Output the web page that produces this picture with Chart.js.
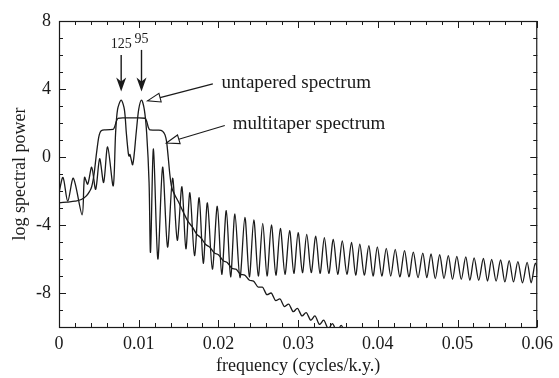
<!DOCTYPE html>
<html>
<head>
<meta charset="utf-8">
<script src="https://cdn.jsdelivr.net/npm/chart.js@4/dist/chart.umd.min.js"></script>
<style>
  html, body { margin: 0; padding: 0; background: #fff; }
</style>
</head>
<body>
<canvas id="spectrum" width="559" height="378"></canvas>
<script>
// untapered periodogram: main lobes at 1/125 and 1/95 cycles/k.y., then sidelobes
const untaperedFreq = [
  0.0000, 0.0005, 0.0011, 0.0018, 0.0029, 0.0032, 0.0036, 0.0041, 0.0046, 0.0051,
  0.0056, 0.0061, 0.0068, 0.0071, 0.00735, 0.0078, 0.0082, 0.00845, 0.0087, 0.0088,
  0.0089, 0.00925, 0.0097, 0.0100, 0.01035, 0.0107, 0.0110, 0.0113, 0.01148, 0.01185,
  0.0124, 0.0130, 0.01362,
  0.01425, 0.01484, 0.01542, 0.01592, 0.01642, 0.01700, 0.01758, 0.01810, 0.01862, 0.01924,
  0.01986, 0.02042, 0.02099, 0.02153, 0.02207, 0.02270, 0.02332, 0.02388, 0.02444, 0.02500,
  0.02556, 0.02610, 0.02665, 0.02721, 0.02777, 0.02835, 0.02893, 0.02946, 0.03000, 0.03054,
  0.03108, 0.03164, 0.03221, 0.03275, 0.03329, 0.03385, 0.03441, 0.03497, 0.03554, 0.03612,
  0.03670, 0.03722, 0.03774, 0.03830, 0.03887, 0.03940, 0.03994, 0.04050, 0.04106, 0.04162,
  0.04218, 0.04276, 0.04335, 0.04390, 0.04445, 0.04504, 0.04564, 0.04615, 0.04667, 0.04721,
  0.04776, 0.04830, 0.04884, 0.04937, 0.04991, 0.05047, 0.05103, 0.05155, 0.05208, 0.05266,
  0.05324, 0.05376, 0.05428, 0.05484, 0.05540, 0.05594, 0.05648, 0.05702, 0.05757, 0.05815,
  0.05873, 0.05924, 0.05976, 0.06030
];
const untaperedPower = [
  -2.1, -1.2, -2.6, -1.25, -3.4, -1.2, -1.6, -0.6, -1.9, -0.1,
  -1.5, 0.6, -1.7, 1.4, 2.8, 3.35, 2.8, 1.4, 0.2, 0.05,
  0.15, -0.45, 1.5, 2.8, 3.35, 2.8, 1.4, -1.5, -5.6, 0.47,
  -6.0, -0.6, -5.3,
  -1.25, -4.9, -1.75, -5.4, -2.1, -5.8, -2.4, -6.25, -2.7, -6.6,
  -2.9, -6.9, -3.15, -7.05, -3.35, -7.1, -3.55, -7.05, -3.7, -7.0,
  -3.9, -7.0, -4.0, -6.95, -4.2, -6.9, -4.33, -6.85, -4.45, -6.8,
  -4.55, -6.8, -4.65, -6.85, -4.75, -6.85, -4.84, -6.9, -4.94, -6.9,
  -5.02, -6.95, -5.12, -6.95, -5.22, -7.0, -5.29, -7.0, -5.37, -7.0,
  -5.43, -7.05, -5.51, -7.05, -5.6, -7.1, -5.65, -7.1, -5.7, -7.15,
  -5.75, -7.15, -5.8, -7.2, -5.84, -7.2, -5.88, -7.25, -5.93, -7.25,
  -5.97, -7.3, -6.02, -7.3, -6.06, -7.35, -6.1, -7.35, -6.15, -7.4,
  -6.2, -7.4, -6.25, -7.4
];

// multitaper estimate: stepped plateau, then decaying leakage with small ripple
const multitaperFreq = [
  0.0000, 0.0010, 0.0020, 0.0028, 0.0034, 0.0038, 0.0041, 0.0044, 0.0047, 0.0050,
  0.0053, 0.0057, 0.0068, 0.0070, 0.0072, 0.0074, 0.0080, 0.0100, 0.0108, 0.0110,
  0.0112, 0.0114, 0.0125, 0.0130, 0.0133, 0.0135, 0.0137, 0.0139, 0.0141, 0.0145,
  0.0150, 0.0156, 0.0162, 0.0167, 0.0173, 0.0178, 0.0184, 0.0189, 0.0195, 0.0200,
  0.0206, 0.0211, 0.0217, 0.0222, 0.0228, 0.0233, 0.0239, 0.0244, 0.0250, 0.0255,
  0.0261, 0.0266, 0.0272, 0.0277, 0.0283, 0.0288, 0.0294, 0.0299, 0.0305, 0.0310,
  0.0316, 0.0321, 0.0327, 0.0332, 0.0338, 0.0343, 0.0349, 0.0354, 0.0360, 0.0365,
  0.0371, 0.0376, 0.0382
];
const multitaperPower = [
  -2.7, -2.65, -2.6, -2.5, -2.3, -2.05, -1.75, -1.0, 0.2, 1.2,
  1.55, 1.6, 1.62, 1.8, 2.1, 2.27, 2.3, 2.3, 2.28, 2.1,
  1.75, 1.6, 1.58, 1.52, 1.3, 0.9, 0.0, -1.0, -1.7, -2.2,
  -2.65, -3.25, -3.8, -4.1, -4.55, -4.75, -5.15, -5.3, -5.65, -5.75,
  -6.1, -6.2, -6.55, -6.6, -6.9, -6.95, -7.25, -7.3, -7.65, -7.65,
  -8.1, -8.0, -8.45, -8.35, -8.8, -8.65, -9.1, -8.9, -9.35, -9.15,
  -9.6, -9.35, -9.85, -9.6, -10.1, -9.8, -10.3, -9.9, -10.45, -10.05,
  -10.6, -10.3, -10.8
];

const xTickValues = [0, 0.01, 0.02, 0.03, 0.04, 0.05, 0.06];
const yTickValues = [-8, -4, 0, 4, 8];
const periodLabels = ["125", "95"];
const periodFreq = [0.0078, 0.01035];
const seriesLabels = ["untapered spectrum", "multitaper spectrum"];

const INK = "#1a1a1a";
const SERIF = "'Liberation Serif', 'DejaVu Serif', serif";

function arrowOpen(ctx, x0, y0, x1, y1) {
  const ang = Math.atan2(y1 - y0, x1 - x0);
  const len = 13, half = 4.5;
  const bx = x1 - len * Math.cos(ang), by = y1 - len * Math.sin(ang);
  const nx = -Math.sin(ang), ny = Math.cos(ang);
  ctx.beginPath();
  ctx.moveTo(x0, y0);
  ctx.lineTo(bx, by);
  ctx.stroke();
  ctx.beginPath();
  ctx.moveTo(x1, y1);
  ctx.lineTo(bx + nx * half, by + ny * half);
  ctx.lineTo(bx - nx * half, by - ny * half);
  ctx.closePath();
  ctx.stroke();
}

const frameAndNotes = {
  id: "frameAndNotes",
  afterDatasetsDraw(chart) {
    const { ctx, chartArea: a, scales: { x, y } } = chart;
    ctx.save();
    ctx.strokeStyle = INK;
    ctx.fillStyle = INK;
    ctx.lineWidth = 1.2;
    ctx.strokeRect(a.left + 0.5, a.top + 0.5, a.right - a.left - 1, a.bottom - a.top);

    // inward ticks on all four sides
    ctx.lineWidth = 1;
    ctx.beginPath();
    for (let i = 0; i <= 30; i++) {
      const px = Math.round(x.getPixelForValue(i * 0.002)) + 0.5;
      const len = i % 5 === 0 ? 7 : 4;
      ctx.moveTo(px, a.bottom); ctx.lineTo(px, a.bottom - len);
      ctx.moveTo(px, a.top); ctx.lineTo(px, a.top + len);
    }
    for (let v = -10; v <= 8; v++) {
      const py = Math.round(y.getPixelForValue(v)) + 0.5;
      const len = v % 4 === 0 ? 7 : 4;
      ctx.moveTo(a.left, py); ctx.lineTo(a.left + len, py);
      ctx.moveTo(a.right, py); ctx.lineTo(a.right - len, py);
    }
    ctx.stroke();

    // period arrows (125 and 95 k.y.)
    ctx.font = "14px " + SERIF;
    ctx.textAlign = "center";
    ctx.textBaseline = "middle";
    periodFreq.forEach((f, i) => {
      const px = x.getPixelForValue(f);
      const tip = y.getPixelForValue(3.85);
      const top = y.getPixelForValue(i === 0 ? 6.0 : 6.3);
      ctx.beginPath();
      ctx.moveTo(px, top); ctx.lineTo(px, tip - 8);
      ctx.lineWidth = 1.4;
      ctx.stroke();
      ctx.beginPath();
      ctx.moveTo(px, tip);
      ctx.lineTo(px - 5, tip - 14);
      ctx.lineTo(px, tip - 10);
      ctx.lineTo(px + 5, tip - 14);
      ctx.closePath();
      ctx.fill();
      ctx.fillText(periodLabels[i], px, y.getPixelForValue(i === 0 ? 6.6 : 6.95));
    });

    // series labels with open arrows
    ctx.lineWidth = 1.1;
    ctx.font = "19px " + SERIF;
    ctx.textAlign = "left";
    ctx.fillText(seriesLabels[0], x.getPixelForValue(0.0204), y.getPixelForValue(4.35));
    ctx.fillText(seriesLabels[1], x.getPixelForValue(0.0218), y.getPixelForValue(1.95));
    arrowOpen(ctx, x.getPixelForValue(0.0193), y.getPixelForValue(4.3),
                   x.getPixelForValue(0.0111), y.getPixelForValue(3.3));
    arrowOpen(ctx, x.getPixelForValue(0.0208), y.getPixelForValue(1.85),
                   x.getPixelForValue(0.01347), y.getPixelForValue(0.82));
    ctx.restore();
  }
};

new Chart(document.getElementById("spectrum").getContext("2d"), {
  type: "line",
  data: {
    datasets: [
      {
        label: seriesLabels[0],
        data: untaperedFreq.map((f, i) => ({ x: f, y: untaperedPower[i] })),
        borderColor: INK,
        borderWidth: 1.3,
        pointRadius: 0,
        tension: 0.3,
      },
      {
        label: seriesLabels[1],
        data: multitaperFreq.map((f, i) => ({ x: f, y: multitaperPower[i] })),
        borderColor: INK,
        borderWidth: 1.3,
        pointRadius: 0,
        cubicInterpolationMode: "monotone",
      },
    ],
  },
  options: {
    responsive: false,
    animation: false,
    layout: { padding: { top: 21, right: 19, left: 0, bottom: 0 } },
    plugins: { legend: { display: false }, tooltip: { enabled: false } },
    scales: {
      x: {
        type: "linear",
        min: 0,
        max: 0.06,
        afterFit: (s) => { s.height = 51; },
        afterBuildTicks: (s) => { s.ticks = xTickValues.map((v) => ({ value: v })); },
        grid: { display: false, drawTicks: false },
        border: { display: false },
        ticks: {
          color: INK,
          padding: 6,
          maxRotation: 0,
          font: { family: SERIF, size: 18 },
          callback: (v) => String(+v.toFixed(2)),
        },
        title: {
          display: true,
          text: "frequency (cycles/k.y.)",
          color: INK,
          padding: 1,
          font: { family: SERIF, size: 18 },
        },
      },
      y: {
        min: -10,
        max: 8,
        afterFit: (s) => { s.width = 59; },
        afterBuildTicks: (s) => { s.ticks = yTickValues.map((v) => ({ value: v })); },
        grid: { display: false, drawTicks: false },
        border: { display: false },
        ticks: {
          color: INK,
          padding: 8,
          font: { family: SERIF, size: 18 },
          callback: (v) => String(v),
        },
        title: {
          display: true,
          text: "log spectral power",
          color: INK,
          padding: 9,
          font: { family: SERIF, size: 18 },
        },
      },
    },
  },
  plugins: [frameAndNotes],
});
</script>
</body>
</html>
